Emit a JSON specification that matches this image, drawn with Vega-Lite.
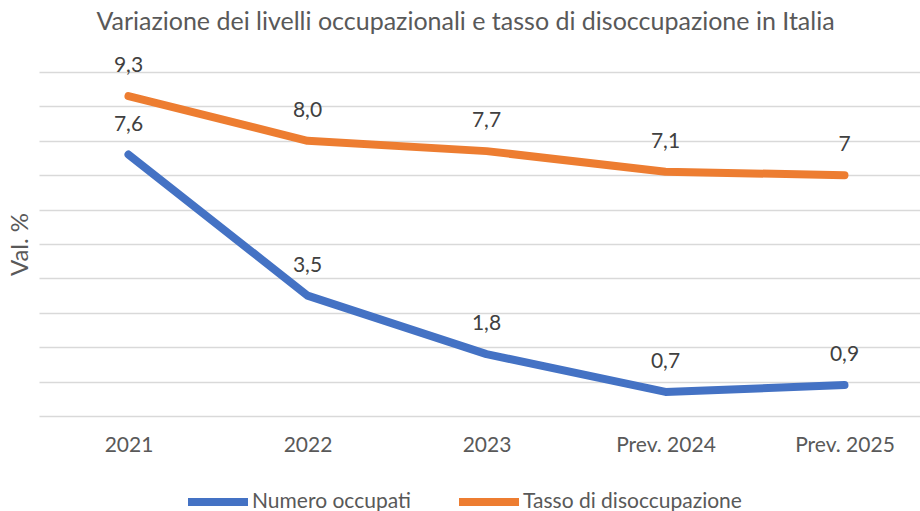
{
  "$schema": "https://vega.github.io/schema/vega-lite/v6.json",
  "width": 895,
  "height": 344,
  "autosize": {"type": "none"},
  "padding": {"left": 39, "top": 72, "right": 0, "bottom": 95},
  "background": "white",
  "config": {"view": {"stroke": null}, "font": "Lato"},
  "title": {
    "text": "Variazione dei livelli occupazionali e tasso di disoccupazione in Italia",
    "anchor": "middle",
    "frame": "group",
    "dx": -21,
    "offset": 0,
    "baseline": "alphabetic",
    "fontSize": 25,
    "fontWeight": "normal",
    "color": "#595959",
    "font": "Lato"
  },
  "data": {
    "values": [
      {"anno": "2021", "serie": "Numero occupati", "valore": 7.6, "etichetta": "7,6"},
      {"anno": "2022", "serie": "Numero occupati", "valore": 3.5, "etichetta": "3,5"},
      {"anno": "2023", "serie": "Numero occupati", "valore": 1.8, "etichetta": "1,8"},
      {"anno": "Prev. 2024", "serie": "Numero occupati", "valore": 0.7, "etichetta": "0,7"},
      {"anno": "Prev. 2025", "serie": "Numero occupati", "valore": 0.9, "etichetta": "0,9"},
      {"anno": "2021", "serie": "Tasso di disoccupazione", "valore": 9.3, "etichetta": "9,3"},
      {"anno": "2022", "serie": "Tasso di disoccupazione", "valore": 8.0, "etichetta": "8,0"},
      {"anno": "2023", "serie": "Tasso di disoccupazione", "valore": 7.7, "etichetta": "7,7"},
      {"anno": "Prev. 2024", "serie": "Tasso di disoccupazione", "valore": 7.1, "etichetta": "7,1"},
      {"anno": "Prev. 2025", "serie": "Tasso di disoccupazione", "valore": 7.0, "etichetta": "7"}
    ]
  },
  "encoding": {
    "x": {
      "field": "anno",
      "type": "ordinal",
      "sort": null,
      "scale": {"type": "point", "padding": 0.5},
      "axis": {
        "title": null,
        "labelAngle": 0,
        "domain": false,
        "ticks": false,
        "grid": false,
        "labelPadding": 18,
        "labelFontSize": 21,
        "labelColor": "#595959",
        "labelFont": "Lato"
      }
    },
    "y": {
      "field": "valore",
      "type": "quantitative",
      "scale": {"domain": [0, 10], "nice": false},
      "axis": {
        "title": "Val. %",
        "titleFontSize": 24,
        "titleFontWeight": "normal",
        "titleColor": "#595959",
        "titleFont": "Lato",
        "titleAngle": -90,
        "titleX": -19,
        "titleY": 172,
        "titleAlign": "center",
        "titleBaseline": "middle",
        "labels": false,
        "ticks": false,
        "domain": false,
        "tickCount": 11,
        "values": [0, 1, 2, 3, 4, 5, 6, 7, 8, 9, 10],
        "gridColor": "#d9d9d9",
        "gridWidth": 1.5
      }
    },
    "color": {
      "field": "serie",
      "type": "nominal",
      "scale": {
        "domain": ["Numero occupati", "Tasso di disoccupazione"],
        "range": ["#4472C4", "#ED7D31"]
      },
      "legend": {
        "title": null,
        "orient": "none",
        "direction": "horizontal",
        "legendX": 145,
        "legendY": 396,
        "symbolType": "stroke",
        "symbolSize": 3600,
        "symbolStrokeWidth": 8,
        "labelFontSize": 21,
        "labelColor": "#595959",
        "labelFont": "Lato",
        "labelOffset": 0,
        "labelLimit": 400,
        "columnPadding": 32
      }
    }
  },
  "layer": [
    {
      "mark": {"type": "line", "strokeWidth": 8, "strokeCap": "round", "strokeJoin": "round"}
    },
    {
      "mark": {"type": "text", "dy": -24, "baseline": "alphabetic", "fontSize": 21, "color": "#404040", "font": "Lato"},
      "encoding": {
        "text": {"field": "etichetta"},
        "color": {"value": "#404040"}
      }
    }
  ]
}
